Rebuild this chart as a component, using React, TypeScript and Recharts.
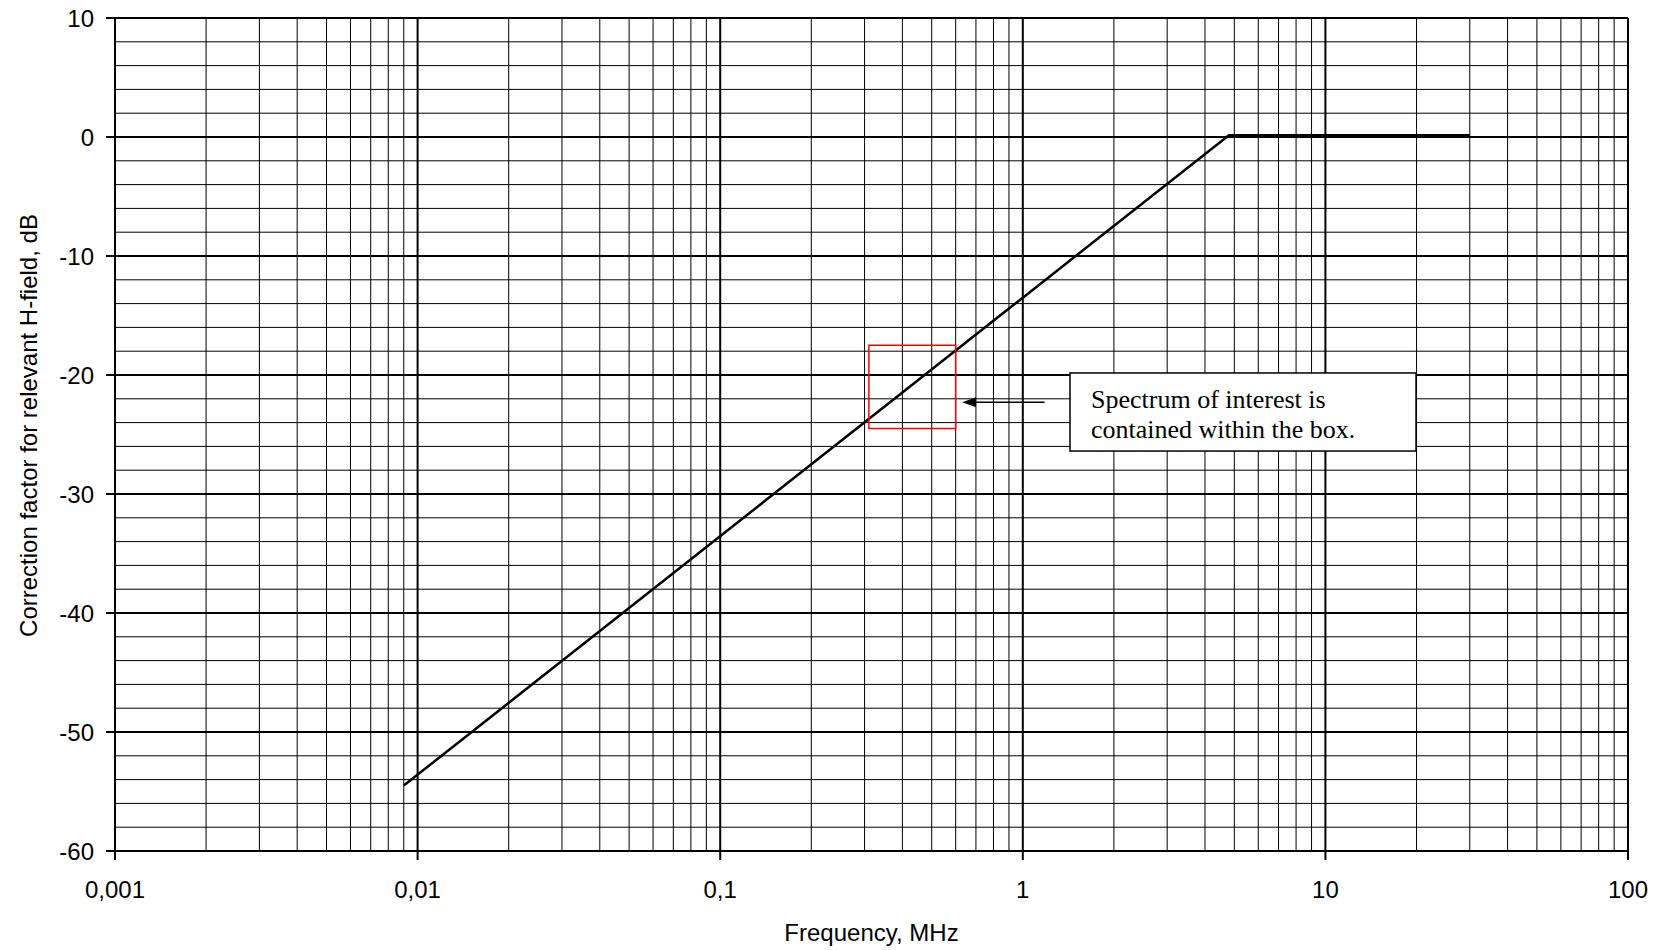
import {
  LineChart,
  Line,
  XAxis,
  YAxis,
  CartesianGrid,
  ReferenceLine,
  ReferenceArea,
  Label,
} from 'recharts';

// correction curve (frequency in MHz, correction in dB)
const freqMHz = [0.009, 4.8, 30];
const correctionDb = [-54.5, 0.15, 0.15];

const freqTicks = [0.001, 0.01, 0.1, 1, 10, 100];
const dbTicks = [-60, -50, -40, -30, -20, -10, 0, 10];
const decades = [0.001, 0.01, 0.1, 1, 10];
const minorSteps = [2, 3, 4, 5, 6, 7, 8, 9];
const minorDb = [-58, -56, -54, -52, -48, -46, -44, -42, -38, -36, -34, -32, -28, -26, -24, -22, -18, -16, -14, -12, -8, -6, -4, -2, 2, 4, 6, 8];

// annotation: spectrum box, arrow, note
const spectrumBox = { f1: 0.31, f2: 0.6, db1: -24.5, db2: -17.5 };
const arrow = { from: 1.18, to: 0.63, db: -22.3 };
const noteBox = { f1: 1.432, f2: 19.93, db1: -26.39, db2: -19.83 };
const noteLines = ['Spectrum of interest is', 'contained within the box.'];

const data = freqMHz.map((f, i) => ({ f, db: correctionDb[i] }));
const minorFreq = decades.flatMap((d) => minorSteps.map((s) => +(s * d).toPrecision(3)));

const sans = 'Liberation Sans, Arial, sans-serif';
const serif = 'Liberation Serif, Times New Roman, serif';

const fmtFreq = (v: number) => String(v).replace('.', ',');

export default function App() {
  return (
    <div style={{ position: 'absolute', left: 0, top: 0, width: 1657, height: 950, background: '#fff' }}>
      <LineChart
        width={1657}
        height={950}
        data={data}
        margin={{ top: 18, right: 29, left: 35, bottom: 39 }}
      >
        <CartesianGrid stroke="#000" strokeWidth={2} />
        {minorFreq.map((v) => (
          <ReferenceLine key={'x' + v} x={v} stroke="#000" strokeWidth={1} />
        ))}
        {minorDb.map((v) => (
          <ReferenceLine key={'y' + v} y={v} stroke="#000" strokeWidth={1} />
        ))}
        <XAxis
          dataKey="f"
          type="number"
          scale="log"
          domain={[0.001, 100]}
          ticks={freqTicks}
          interval={0}
          allowDataOverflow
          tickFormatter={fmtFreq}
          height={60}
          tickSize={9}
          tickMargin={21}
          axisLine={{ stroke: '#000', strokeWidth: 2 }}
          tickLine={{ stroke: '#000', strokeWidth: 2 }}
          tick={{ fill: '#000', fontSize: 24, fontFamily: sans }}
        >
          <Label
            content={({ viewBox }: any) => (
              <text
                x={viewBox.x + viewBox.width / 2}
                y={941}
                textAnchor="middle"
                fontSize={24}
                fontFamily={sans}
                fill="#000"
              >
                Frequency, MHz
              </text>
            )}
          />
        </XAxis>
        <YAxis
          type="number"
          domain={[-60, 10]}
          ticks={dbTicks}
          interval={0}
          width={80}
          tickSize={9}
          tickMargin={12}
          axisLine={{ stroke: '#000', strokeWidth: 2 }}
          tickLine={{ stroke: '#000', strokeWidth: 2 }}
          tick={{ fill: '#000', fontSize: 24, fontFamily: sans }}
        >
          <Label
            content={({ viewBox }: any) => {
              const cx = viewBox.x + 2;
              const cy = viewBox.y + viewBox.height / 2 - 9;
              return (
                <text
                  x={cx}
                  y={cy}
                  transform={`rotate(-90, ${cx}, ${cy})`}
                  textAnchor="middle"
                  fontSize={24}
                  fontFamily={sans}
                  fill="#000"
                >
                  Correction factor for relevant H-field, dB
                </text>
              );
            }}
          />
        </YAxis>
        <Line
          dataKey="db"
          type="linear"
          stroke="#000"
          strokeWidth={2.5}
          dot={false}
          isAnimationActive={false}
        />
        <ReferenceArea
          x1={spectrumBox.f1}
          x2={spectrumBox.f2}
          y1={spectrumBox.db1}
          y2={spectrumBox.db2}
          fill="none"
          fillOpacity={0}
          stroke="#ff0000"
          strokeWidth={1.5}
          zIndex={2500}
        />
        <ReferenceLine
          segment={[
            { x: arrow.from, y: arrow.db },
            { x: arrow.to, y: arrow.db },
          ]}
          zIndex={2500}
          shape={(p: any) => (
            <g>
              <line x1={p.x1} y1={p.y1} x2={p.x2 + 12} y2={p.y2} stroke="#000" strokeWidth={1.5} />
              <polygon
                points={`${p.x2},${p.y2} ${p.x2 + 14},${p.y2 - 5} ${p.x2 + 14},${p.y2 + 5}`}
                fill="#000"
              />
            </g>
          )}
        />
        <ReferenceArea
          x1={noteBox.f1}
          x2={noteBox.f2}
          y1={noteBox.db1}
          y2={noteBox.db2}
          zIndex={2600}
          shape={(p: any) => (
            <g>
              <rect x={p.x} y={p.y} width={p.width} height={p.height} fill="#fff" stroke="#000" strokeWidth={1.5} />
              {noteLines.map((t, i) => (
                <text
                  key={t}
                  x={p.x + 21}
                  y={p.y + 35 + i * 30}
                  fontSize={26}
                  fontFamily={serif}
                  fill="#000"
                >
                  {t}
                </text>
              ))}
            </g>
          )}
        />
      </LineChart>
    </div>
  );
}
